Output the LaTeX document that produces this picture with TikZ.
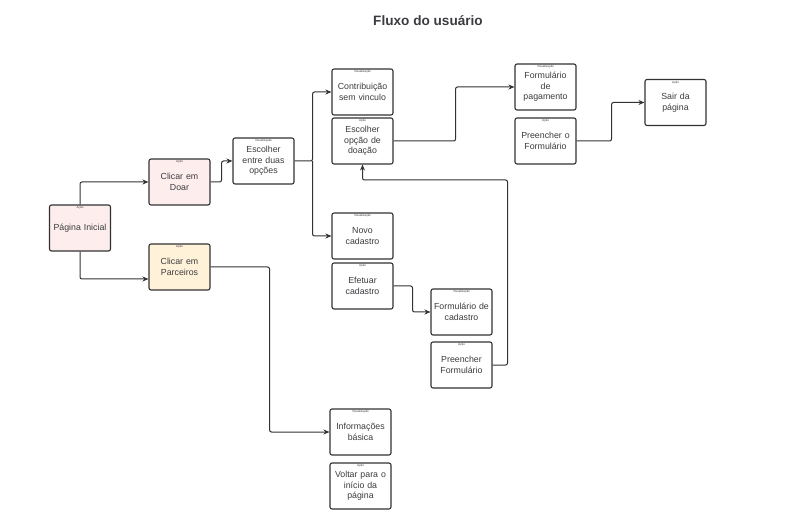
\documentclass[tikz,border=0pt]{standalone}
\usepackage{fontspec}
\setmainfont{Liberation Sans}
\usepackage{xcolor}
\usetikzlibrary{shapes,arrows,arrows.meta,positioning,calc}
\definecolor{edge}{RGB}{50,50,52}
\definecolor{ink}{RGB}{60,60,64}
\definecolor{rosa}{RGB}{253,237,237}
\definecolor{creme}{RGB}{255,242,217}

\begin{document}
\begin{tikzpicture}[
    x=1pt, y=-1pt,
    screen/.style={rectangle, draw=edge, fill=white, line width=1.1pt, rounded corners=2pt, minimum width=61pt, minimum height=46pt, text width=58pt, align=center, font=\fontsize{8.8}{10.5}\selectfont, text=ink, inner sep=0pt},
    acao/.style={screen, label={[anchor=north, yshift=-2pt, font=\fontsize{3}{3}\selectfont, text=ink, inner sep=0pt]north:Ação}},
    visual/.style={screen, label={[anchor=north, yshift=-2pt, font=\fontsize{3}{3}\selectfont, text=ink, inner sep=0pt]north:Visualização}},
    arrow/.style={-{Stealth[length=6pt,width=5pt]}, draw=edge, line width=1pt, rounded corners=2pt}
]
    \useasboundingbox (0,0) rectangle (787,521);
    \node[font=\bfseries\fontsize{13.6}{16}\selectfont, text=ink] (titulo) at (428,21) {Fluxo do usuário};

    \node[acao, fill=rosa] (inicio) at (80,228) {Página Inicial};
    \node[acao, fill=rosa] (doar) at (179.5,182) {Clicar em\\Doar};
    \node[acao, fill=creme] (parceiros) at (179.5,267) {Clicar em\\Parceiros};
    \node[visual] (escolha) at (263.5,161) {Escolher\\entre duas\\opções};
    \node[visual] (contrib) at (362.5,92) {Contribuição\\sem vinculo};
    \node[acao] (opcao) at (362.5,141) {Escolher\\opção de\\doação};
    \node[visual] (pagamento) at (545.5,87) {Formulário\\de\\pagamento};
    \node[acao] (preencher) at (545.5,141) {Preencher o\\Formulário};
    \node[acao] (sair) at (675.5,102.5) {Sair da\\página};
    \node[visual] (novo) at (362.5,236) {Novo\\cadastro};
    \node[acao] (efetuar) at (362.5,286) {Efetuar\\cadastro};
    \node[visual] (formcad) at (461.5,312) {Formulário de\\cadastro};
    \node[acao] (preenchecad) at (461.5,365) {Preencher\\Formulário};
    \node[visual] (info) at (360.5,432) {Informações\\básica};
    \node[acao] (voltar) at (360.5,486) {Voltar para o\\início da\\página};

    \draw[arrow] (inicio.north) |- (doar.west);
    \draw[arrow] (inicio.south) |- ([yshift=-12pt]parceiros.west);
    \draw[arrow] (doar.east) -- ++(11,0) |- (escolha.west);
    \draw[arrow] (escolha.east) -- ++(18,0) coordinate (split) |- (contrib.west);
    \draw[arrow] (split) |- (novo.west);
    \draw[arrow] (opcao.east) -- ++(62,0) |- (pagamento.west);
    \draw[arrow] (preencher.east) -- ++(35,0) |- (sair.west);
    \draw[arrow] (efetuar.east) -- ++(19,0) |- (formcad.west);
    \draw[arrow] (preenchecad.east) -- ++(15,0) -- ++(0,-185) -| (opcao.south);
    \draw[arrow] (parceiros.east) -- ++(59,0) |- (info.west);
\end{tikzpicture}
\end{document}
